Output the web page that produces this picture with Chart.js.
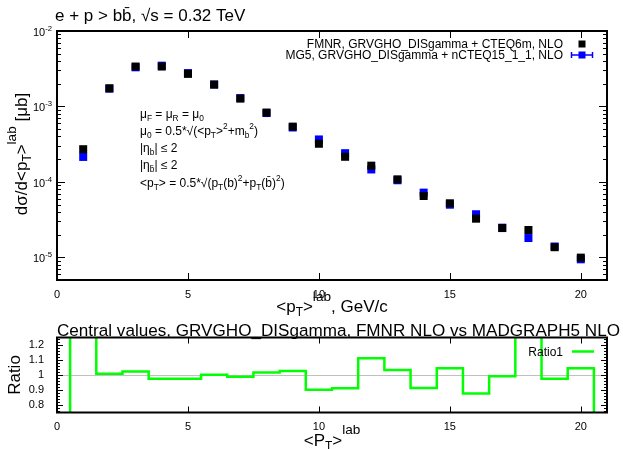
<!DOCTYPE html>
<html>
<head>
<meta charset="utf-8">
<script src="https://cdn.jsdelivr.net/npm/chart.js@4/dist/chart.umd.min.js"></script>
<style>
  html, body { margin: 0; padding: 0; background: #fff; }
  #wrap { position: relative; width: 623px; height: 449px; overflow: hidden; background: #fff; }
  #cTop { position: absolute; left: 0; top: 0; }
  #cBot { position: absolute; left: 0; top: 320px; }
</style>
</head>
<body>
<div id="wrap">
  <canvas id="cTop" width="623" height="320"></canvas>
  <canvas id="cBot" width="623" height="129"></canvas>
</div>
<script>
// <pT>^lab bin centres, GeV/c
const ptBins = [1, 2, 3, 4, 5, 6, 7, 8, 9, 10, 11, 12, 13, 14, 15, 16, 17, 18, 19, 20];

// dσ/d<pT>^lab [μb], FMNR NLO (GRVGHO_DISgamma + CTEQ6m)
const fmnr = [2.71e-4, 1.74e-3, 3.38e-3, 3.38e-3, 2.70e-3, 1.95e-3, 1.27e-3, 8.30e-4, 5.40e-4, 3.20e-4,
              2.15e-4, 1.64e-4, 1.08e-4, 6.50e-5, 5.20e-5, 3.25e-5, 2.44e-5, 2.30e-5, 1.36e-5, 9.90e-6];

// dσ/d<pT>^lab [μb], MG5 NLO (GRVGHO_DISgamma + nCTEQ15_1_1)
const mg5 = [2.14e-4, 1.72e-3, 3.30e-3, 3.47e-3, 2.77e-3, 1.95e-3, 1.29e-3, 8.17e-4, 5.26e-4, 3.65e-4,
             2.40e-4, 1.46e-4, 1.05e-4, 7.20e-5, 4.98e-5, 3.72e-5, 2.47e-5, 1.80e-5, 1.39e-5, 9.40e-6];

// FMNR / MG5 central-value ratio per bin
const ratio1 = [1.27, 1.009, 1.023, 0.975, 0.975, 1.002, 0.989, 1.016, 1.027, 0.902,
                0.911, 1.111, 1.034, 0.914, 1.045, 0.877, 0.991, 1.28, 0.975, 1.045];

// axis ticks
const xTickVals = [0, 5, 10, 15, 20];
const yDecadeExps = [-2, -3, -4, -5];
const ratioTickVals = [0.8, 0.9, 1, 1.1, 1.2];

const FAM = '"Liberation Sans", Arial, Helvetica, sans-serif';
const BBAR = 'b\u0304';

// draw a run of text pieces: [string, 'n' | 'sub' | 'sup' | 'hsup']
function pieceSize(m, size) {
  if (m === 'n') return size;
  if (m === 'hsup') return size * 0.8;
  return size * 0.7;
}
function pieceShift(m, size) {
  if (m === 'sub') return size * 0.25;
  if (m === 'sup') return -size * 0.45;
  if (m === 'hsup') return -size * 0.66;
  return 0;
}
function richWidth(ctx, parts, size) {
  let w = 0;
  for (const [t, m] of parts) {
    ctx.font = pieceSize(m, size) + 'px ' + FAM;
    w += ctx.measureText(t).width;
  }
  return w;
}
function drawRich(ctx, x, y, parts, size, align) {
  const w = richWidth(ctx, parts, size);
  let cx = align === 'right' ? x - w : align === 'center' ? x - w / 2 : x;
  ctx.textAlign = 'left';
  ctx.textBaseline = 'alphabetic';
  for (const [t, m] of parts) {
    ctx.font = pieceSize(m, size) + 'px ' + FAM;
    ctx.fillText(t, cx, y + pieceShift(m, size));
    cx += ctx.measureText(t).width;
  }
}
function seg(ctx, x1, y1, x2, y2) {
  ctx.beginPath(); ctx.moveTo(x1, y1); ctx.lineTo(x2, y2); ctx.stroke();
}

// ---------- upper panel: differential cross section ----------
const topDecor = {
  id: 'topDecor',
  afterDraw(chart) {
    const { ctx, chartArea: a, scales: { x, y } } = chart;
    ctx.save();
    ctx.fillStyle = '#000';
    ctx.strokeStyle = '#000';
    ctx.lineWidth = 1;

    // x ticks on bottom and top
    xTickVals.forEach(v => {
      if (v <= x.min || v >= x.max) return;
      const px = Math.round(x.getPixelForValue(v)) + 0.5;
      seg(ctx, px, a.bottom, px, a.bottom - 7);
      seg(ctx, px, a.top, px, a.top + 7);
    });
    // log ticks on left and right
    for (let e = -6; e <= -2; e++) {
      for (let m = 1; m <= 9; m++) {
        const v = m * Math.pow(10, e);
        if (v < y.min * 0.999 || v > y.max * 1.001) continue;
        const py = Math.round(y.getPixelForValue(v)) + 0.5;
        const len = m === 1 ? 8 : 4;
        seg(ctx, a.left, py, a.left + len, py);
        seg(ctx, a.right, py, a.right - len, py);
      }
    }
    // frame
    ctx.lineWidth = 2;
    ctx.strokeRect(a.left, a.top, a.right - a.left, a.bottom - a.top);

    // decade labels
    yDecadeExps.forEach(e => {
      const py = y.getPixelForValue(Math.pow(10, e));
      drawRich(ctx, a.left - 5, py + 5, [['10', 'n'], [String(e), 'sup']], 11, 'right');
    });

    // title
    drawRich(ctx, 55, 21, [['e + p > b' + BBAR + ', \u221As = 0.32 TeV', 'n']], 17, 'left');

    // x title
    drawRich(ctx, (a.left + a.right) / 2, 312,
      [['<p', 'n'], ['T', 'sub'], ['>', 'n'], ['lab', 'hsup'], [', GeV/c', 'n']], 17, 'center');

    // y title
    ctx.save();
    ctx.translate(27, 154);
    ctx.rotate(-Math.PI / 2);
    drawRich(ctx, 0, 0,
      [['d\u03C3/d<p', 'n'], ['T', 'sub'], ['>', 'n'], ['lab', 'hsup'], [' [\u03BCb]', 'n']], 17, 'center');
    ctx.restore();

    // legend
    drawRich(ctx, 563, 48, [['FMNR, GRVGHO_DISgamma + CTEQ6m, NLO', 'n']], 12, 'right');
    drawRich(ctx, 563, 59, [['MG5, GRVGHO_DISgamma + nCTEQ15_1_1, NLO', 'n']], 12, 'right');
    ctx.fillStyle = '#000';
    ctx.fillRect(578.5, 40.5, 7, 7);
    ctx.strokeStyle = '#0000ff';
    ctx.lineWidth = 1.5;
    seg(ctx, 571, 55, 593, 55);
    seg(ctx, 571.5, 52, 571.5, 58);
    seg(ctx, 592.5, 52, 592.5, 58);
    ctx.fillStyle = '#0000ff';
    ctx.fillRect(578.5, 51.5, 7, 7);

    // cuts and scale choice
    ctx.fillStyle = '#000';
    const L = 140, B0 = 117.5, DY = 17.3, S = 12;
    drawRich(ctx, L, B0, [['\u03BC', 'n'], ['F', 'sub'], [' = \u03BC', 'n'], ['R', 'sub'], [' = \u03BC', 'n'], ['0', 'sub']], S, 'left');
    drawRich(ctx, L, B0 + DY, [['\u03BC', 'n'], ['0', 'sub'], [' = 0.5*\u221A(<p', 'n'], ['T', 'sub'], ['>', 'n'], ['2', 'sup'],
      ['+m', 'n'], ['b', 'sub'], ['2', 'sup'], [')', 'n']], S, 'left');
    drawRich(ctx, L, B0 + 2 * DY, [['|\u03B7', 'n'], ['b', 'sub'], ['| \u2264 2', 'n']], S, 'left');
    drawRich(ctx, L, B0 + 3 * DY, [['|\u03B7', 'n'], [BBAR, 'sub'], ['| \u2264 2', 'n']], S, 'left');
    drawRich(ctx, L, B0 + 4 * DY, [['<p', 'n'], ['T', 'sub'], ['> = 0.5*\u221A(p', 'n'], ['T', 'sub'], ['(b)', 'n'], ['2', 'sup'],
      ['+p', 'n'], ['T', 'sub'], ['(' + BBAR + ')', 'n'], ['2', 'sup'], [')', 'n']], S, 'left');
    ctx.restore();
  }
};

new Chart(document.getElementById('cTop'), {
  type: 'scatter',
  data: {
    datasets: [
      {
        label: 'FMNR, GRVGHO_DISgamma + CTEQ6m, NLO',
        data: ptBins.map((v, i) => ({ x: v, y: fmnr[i] })),
        pointStyle: 'rect', pointRadius: 5.66, pointBorderWidth: 0,
        backgroundColor: '#000000', borderColor: '#000000'
      },
      {
        label: 'MG5, GRVGHO_DISgamma + nCTEQ15_1_1, NLO',
        data: ptBins.map((v, i) => ({ x: v, y: mg5[i] })),
        pointStyle: 'rect', pointRadius: 5.66, pointBorderWidth: 0,
        backgroundColor: '#0000ff', borderColor: '#0000ff'
      }
    ]
  },
  options: {
    responsive: false, animation: false, devicePixelRatio: 1,
    layout: { padding: { left: 0, top: 31, right: 16, bottom: 0 } },
    plugins: { legend: { display: false }, tooltip: { enabled: false }, title: { display: false } },
    scales: {
      x: {
        type: 'linear', min: 0, max: 21,
        afterBuildTicks: s => { s.ticks = xTickVals.map(v => ({ value: v })); },
        afterFit: s => { s.height = 40; },
        grid: { display: false }, border: { display: false },
        ticks: { color: '#000', font: { family: FAM, size: 11 }, maxRotation: 0, padding: 0, autoSkip: false }
      },
      y: {
        type: 'logarithmic', min: 5e-6, max: 1e-2,
        afterFit: s => { s.width = 57; },
        grid: { display: false }, border: { display: false },
        ticks: { display: false }
      }
    }
  },
  plugins: [topDecor]
});

// ---------- lower panel: ratio ----------
// histogram outline: rise at the first edge, bin tops, fall at the last edge
const stepPts = [{ x: ptBins[0] - 0.5, y: 0 }];
ratio1.forEach((r, i) => stepPts.push({ x: ptBins[i] - 0.5, y: r }));
stepPts.push({ x: ptBins[ptBins.length - 1] + 0.5, y: 0 });

const botDecor = {
  id: 'botDecor',
  beforeDatasetsDraw(chart) {
    const { ctx, chartArea: a, scales: { y } } = chart;
    const py = Math.round(y.getPixelForValue(1)) + 0.5;
    ctx.save();
    ctx.strokeStyle = '#c0c0c0';
    ctx.lineWidth = 1;
    seg(ctx, a.left, py, a.right, py);
    ctx.restore();
  },
  afterDraw(chart) {
    const { ctx, chartArea: a, scales: { x, y } } = chart;
    ctx.save();
    ctx.strokeStyle = '#000';
    ctx.fillStyle = '#000';
    ctx.lineWidth = 1;
    xTickVals.forEach(v => {
      if (v <= x.min || v >= x.max) return;
      const px = Math.round(x.getPixelForValue(v)) + 0.5;
      seg(ctx, px, a.bottom, px, a.bottom - 6);
      seg(ctx, px, a.top, px, a.top + 6);
    });
    for (let k = 38; k <= 62; k++) {
      const v = k * 0.02;
      const py = Math.round(y.getPixelForValue(v)) + 0.5;
      const major = k % 5 === 0;
      const len = major ? 6 : 3;
      seg(ctx, a.left, py, a.left + len, py);
      seg(ctx, a.right, py, a.right - len, py);
    }
    ctx.lineWidth = 2;
    ctx.strokeRect(a.left, a.top, a.right - a.left, a.bottom - a.top);

    // panel title
    drawRich(ctx, 57, 16, [['Central values, GRVGHO_DISgamma, FMNR NLO vs MADGRAPH5 NLO', 'n']], 17.1, 'left');

    // legend
    ctx.fillStyle = '#000';
    drawRich(ctx, 563, 35.5, [['Ratio1', 'n']], 12, 'right');
    ctx.strokeStyle = '#00ff00';
    ctx.lineWidth = 2.5;
    seg(ctx, 572, 31.5, 594, 31.5);

    // axis titles
    ctx.fillStyle = '#000';
    drawRich(ctx, (a.left + a.right) / 2, 125.5, [['<P', 'n'], ['T', 'sub'], ['>', 'n'], ['lab', 'hsup']], 17, 'center');
    ctx.save();
    ctx.translate(20, 55);
    ctx.rotate(-Math.PI / 2);
    drawRich(ctx, 0, 0, [['Ratio', 'n']], 17, 'center');
    ctx.restore();
    ctx.restore();
  }
};

new Chart(document.getElementById('cBot'), {
  type: 'line',
  data: {
    datasets: [{
      label: 'Ratio1',
      data: stepPts,
      stepped: 'before',
      borderColor: '#00ff00',
      borderWidth: 2.5,
      pointRadius: 0,
      fill: false,
      clip: 0
    }]
  },
  options: {
    responsive: false, animation: false, devicePixelRatio: 1,
    layout: { padding: { left: 0, top: 17.5, right: 16, bottom: 0 } },
    plugins: { legend: { display: false }, tooltip: { enabled: false }, title: { display: false } },
    scales: {
      x: {
        type: 'linear', min: 0, max: 21,
        afterBuildTicks: s => { s.ticks = xTickVals.map(v => ({ value: v })); },
        afterFit: s => { s.height = 36.5; },
        grid: { display: false }, border: { display: false },
        ticks: { color: '#000', font: { family: FAM, size: 11 }, maxRotation: 0, padding: 0, autoSkip: false }
      },
      y: {
        type: 'linear', min: 0.75, max: 1.25,
        afterBuildTicks: s => { s.ticks = ratioTickVals.map(v => ({ value: v })); },
        afterFit: s => { s.width = 57; },
        grid: { display: false }, border: { display: false },
        ticks: { color: '#000', font: { family: FAM, size: 11 }, padding: 5, autoSkip: false,
                 callback: v => String(Math.round(v * 10) / 10) }
      }
    }
  },
  plugins: [botDecor]
});
</script>
</body>
</html>
